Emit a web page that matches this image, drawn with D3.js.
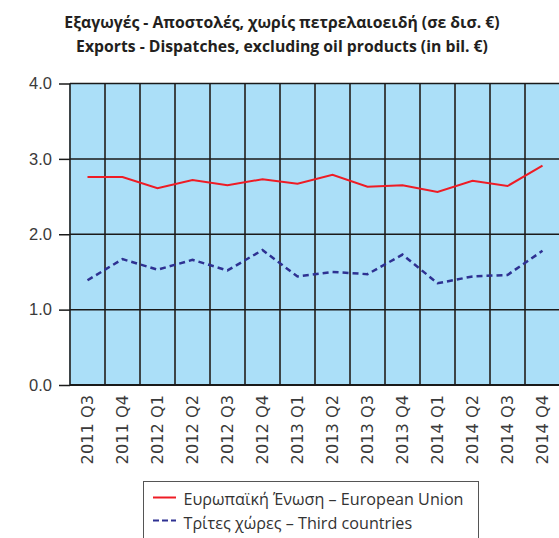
<!DOCTYPE html>
<html>
<head>
<meta charset="utf-8">
<script src="https://cdn.jsdelivr.net/npm/d3@7"></script>
<style>
  html, body { margin: 0; padding: 0; background: #fff; }
  svg { display: block; }
</style>
</head>
<body>
<svg id="chart" width="559" height="538"></svg>
<script>
// Quarterly exports/dispatches excluding oil products, billion euro
const quarters = ["2011 Q3","2011 Q4","2012 Q1","2012 Q2","2012 Q3","2012 Q4",
                  "2013 Q1","2013 Q2","2013 Q3","2013 Q4","2014 Q1","2014 Q2","2014 Q3","2014 Q4"];
const euValues    = [2.76, 2.76, 2.61, 2.72, 2.65, 2.73, 2.67, 2.79, 2.63, 2.65, 2.56, 2.71, 2.64, 2.91];
const thirdValues = [1.39, 1.67, 1.53, 1.66, 1.52, 1.79, 1.44, 1.50, 1.47, 1.73, 1.35, 1.44, 1.46, 1.78];
const yTicks = [0, 1, 2, 3, 4];
const titleLines = [
  "Εξαγωγές - Αποστολές, χωρίς πετρελαιοειδή (σε δισ. €)",
  "Exports - Dispatches, excluding oil products (in bil. €)"
];
const seriesNames = [
  "Ευρωπαϊκή Ένωση – European Union",
  "Τρίτες χώρες – Third countries"
];

const svg = d3.select("#chart");
const plotLeft = 70, plotRight = 560, plotTop = 83.5, plotBottom = 385;

const x = d3.scaleBand().domain(quarters).range([plotLeft, plotRight]).padding(0);
const y = d3.scaleLinear().domain([0, 4]).range([plotBottom, plotTop]);

// Title (slightly condensed bold face)
const title = svg.append("g")
  .attr("transform", "translate(282,0) scale(0.955,1)")
  .attr("font-family", "'Open Sans', sans-serif")
  .attr("font-weight", "bold")
  .attr("font-size", 16.5)
  .attr("fill", "#231f20")
  .attr("text-anchor", "middle");
titleLines.forEach((t, i) => {
  title.append("text").attr("x", 0).attr("y", 27.7 + i * 24).text(t);
});

// Plot background
svg.append("rect")
  .attr("x", plotLeft).attr("y", y(4))
  .attr("width", plotRight - plotLeft).attr("height", y(0) - y(4))
  .attr("fill", "#abdff8");

// Vertical grid at category boundaries
const bounds = quarters.map(q => x(q)).concat([plotRight]);
svg.append("g").selectAll("line").data(bounds).join("line")
  .attr("x1", d => d).attr("x2", d => d)
  .attr("y1", y(4)).attr("y2", y(0))
  .attr("stroke", "#3d4447").attr("stroke-width", 2);

// Horizontal grid + y axis
const yAxis = d3.axisLeft(y).tickValues(yTicks).tickFormat(d3.format(".1f"))
  .tickSize(11).tickPadding(7);
const yg = svg.append("g").attr("transform", `translate(${plotLeft},0)`).call(yAxis);
yg.select(".domain").remove();
yg.selectAll(".tick line").attr("stroke", "#1a1a1a").attr("stroke-width", 1.5);
yg.selectAll(".tick text")
  .attr("font-family", "'Liberation Sans', Arial, sans-serif")
  .attr("font-size", 16.5).attr("fill", "#3a3a3a");

svg.append("g").selectAll("line").data(yTicks).join("line")
  .attr("x1", plotLeft).attr("x2", plotRight)
  .attr("y1", d => y(d)).attr("y2", d => y(d))
  .attr("stroke", "#1a1a1a").attr("stroke-width", d => d === 0 ? 2 : 1.5);

// X axis labels, rotated
const xAxis = d3.axisBottom(x).tickSize(0).tickPadding(0);
const xg = svg.append("g").attr("transform", `translate(0,${plotBottom})`).call(xAxis);
xg.select(".domain").remove();
xg.selectAll(".tick text")
  .attr("font-family", "'DejaVu Sans', Verdana, sans-serif")
  .attr("font-size", 16.2).attr("fill", "#3a3a3a")
  .attr("text-anchor", "end")
  .attr("transform", "rotate(-90)")
  .attr("x", -10).attr("y", 0).attr("dy", "0.36em");

// Series lines
const line = d3.line().x((d, i) => x(quarters[i]) + x.bandwidth() / 2).y(d => y(d));
svg.append("path").datum(euValues).attr("d", line)
  .attr("fill", "none").attr("stroke", "#ee1c25").attr("stroke-width", 2);
svg.append("path").datum(thirdValues).attr("d", line)
  .attr("fill", "none").attr("stroke", "#2e3192").attr("stroke-width", 2.5)
  .attr("stroke-dasharray", "6,4");

// Legend
const lg = svg.append("g");
lg.append("rect").attr("x", 143.5).attr("y", 481.5).attr("width", 335).attr("height", 70)
  .attr("fill", "#fff").attr("stroke", "#555").attr("stroke-width", 1);
const styles = [
  { stroke: "#ee1c25", dash: null, w: 2 },
  { stroke: "#2e3192", dash: "6,3", w: 2 }
];
seriesNames.forEach((name, i) => {
  const cy = 497.5 + i * 23;
  lg.append("line").attr("x1", 153).attr("x2", 176).attr("y1", cy).attr("y2", cy)
    .attr("stroke", styles[i].stroke).attr("stroke-width", styles[i].w)
    .attr("stroke-dasharray", styles[i].dash);
  lg.append("text")
    .attr("transform", `translate(183.5,${504.6 + i * 24}) scale(0.98,1)`)
    .attr("font-family", "'Open Sans', sans-serif")
    .attr("font-size", 16.5).attr("fill", "#333")
    .text(name);
});
</script>
</body>
</html>
